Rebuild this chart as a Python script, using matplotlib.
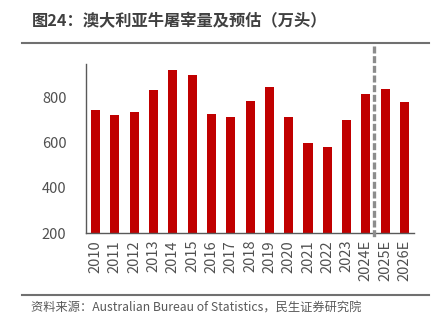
import matplotlib
matplotlib.use("Agg")
import matplotlib.pyplot as plt
from matplotlib.lines import Line2D
import matplotlib.transforms as mtransforms

plt.rcParams['font.family'] = ['Noto Sans CJK SC', 'DejaVu Sans']

years = ["2010", "2011", "2012", "2013", "2014", "2015", "2016", "2017", "2018",
         "2019", "2020", "2021", "2022", "2023", "2024E", "2025E", "2026E"]
slaughter = [745, 725, 735, 835, 922, 902, 728, 716, 787,
             848, 714, 601, 583, 703, 818, 840, 780]
yticks = [200, 400, 600, 800]

title = "图24：澳大利亚牛屠宰量及预估（万头）"
source = "资料来源：Australian Bureau of Statistics，民生证券研究院"

gray_txt = "#404040"

fig = plt.figure(figsize=(4.36, 3.25), dpi=100)
ax = fig.add_axes([0.197, 0.283, 0.753, 0.52])

x = range(len(years))
ax.bar(x, slaughter, width=0.47, color="#C00000")

ax.set_xlim(-0.5, len(years) - 0.5)
ax.set_ylim(200, 950)
ax.set_yticks(yticks)
ax.set_xticks(list(x))
ax.set_xticklabels(years, rotation=90)
ax.tick_params(axis="y", length=0, pad=14, labelsize=10.5, labelcolor="#505050")
ax.tick_params(axis="x", length=0, pad=5, labelsize=10.5, labelcolor="#505050")

for side in ("top", "right"):
    ax.spines[side].set_visible(False)
for side in ("left", "bottom"):
    ax.spines[side].set_color("#595959")
    ax.spines[side].set_linewidth(1.0)

# dashed divider between actual and forecast, runs past the axes
trans = mtransforms.blended_transform_factory(ax.transData, fig.transFigure)
ax.plot([14.4, 14.4], [1 - 46 / 325, 1 - 237 / 325], transform=trans,
        color="#8C8C8C", lw=2.4, dashes=(2.1, 0.8), clip_on=False, zorder=5)

# title and source with rules
fig.text(32 / 436, 1 - 21 / 325, title, fontsize=11.7, fontweight="bold",
         color=gray_txt, va="center", ha="left")
fig.add_artist(Line2D([22 / 436, 429 / 436], [1 - 43 / 325, 1 - 43 / 325],
                      color="#707070", lw=1.5))
fig.add_artist(Line2D([22 / 436, 429 / 436], [1 - 295 / 325, 1 - 295 / 325],
                      color="#707070", lw=1.5))
fig.text(31 / 436, 1 - 308 / 325, source, fontsize=8.8, color="#595959",
         va="center", ha="left")

plt.savefig("out.png", dpi=100)
